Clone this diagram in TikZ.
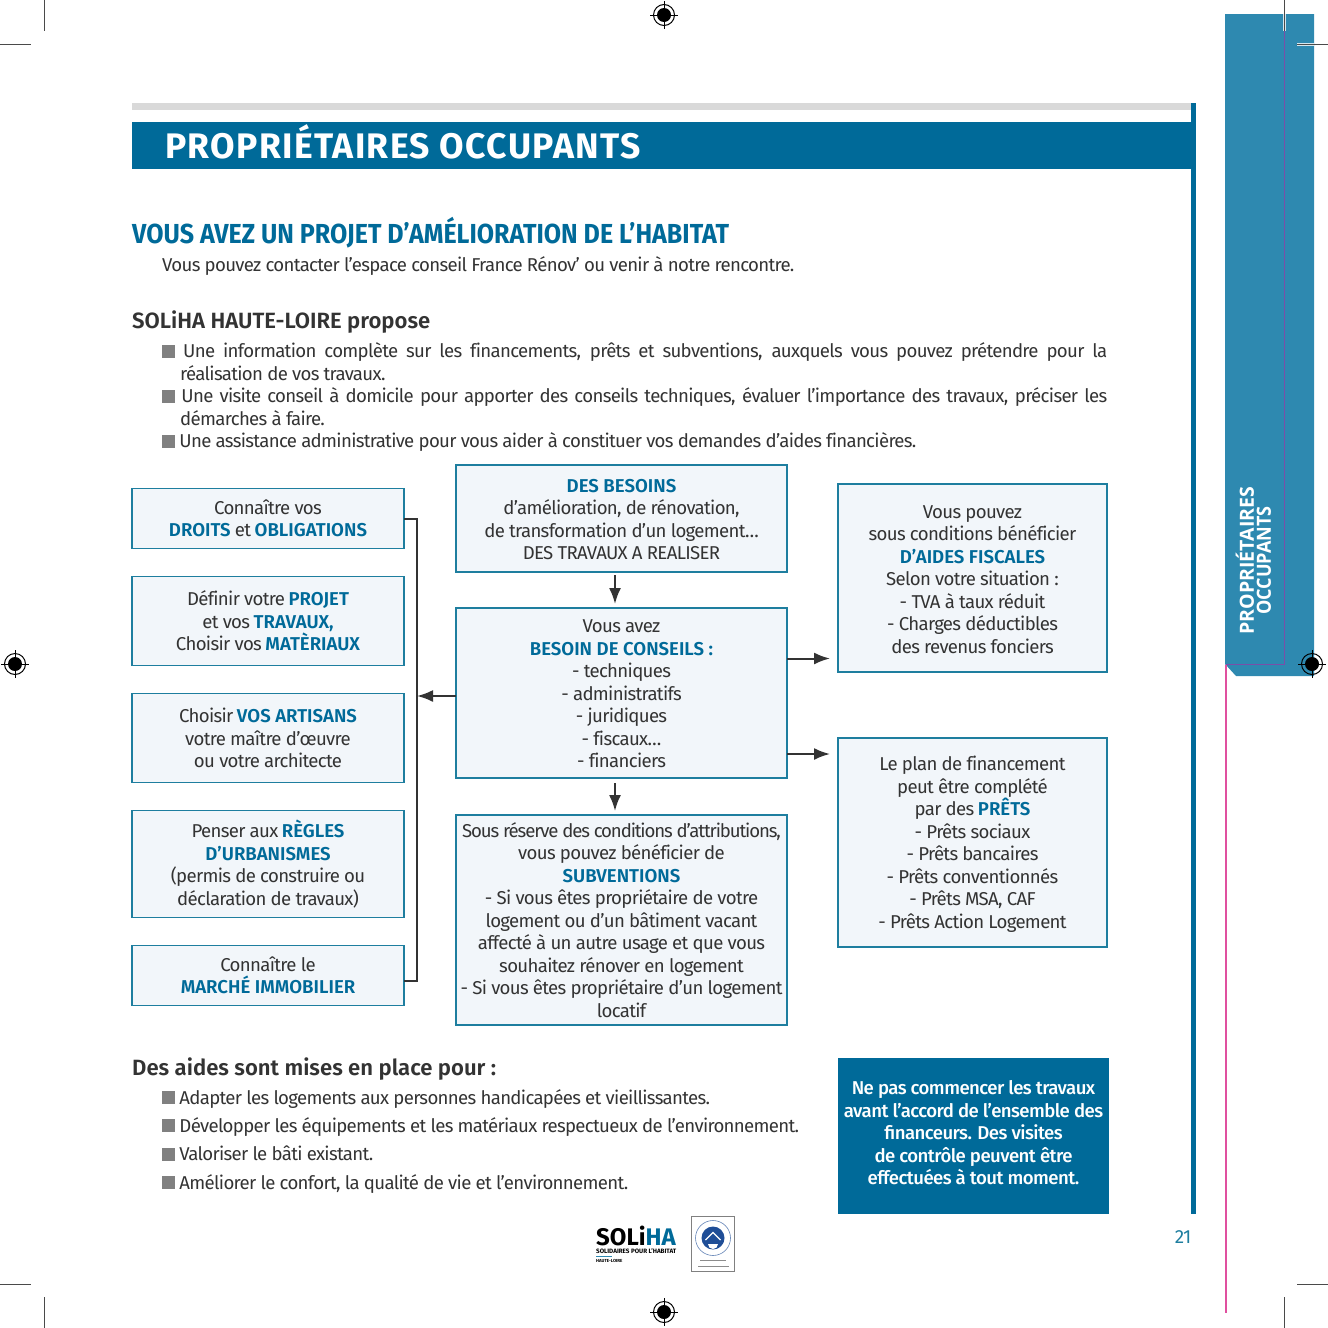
\documentclass[tikz,border=0pt]{standalone}
\usepackage{fontspec}
\setmainfont{Fira Sans}[BoldFont=Fira Sans SemiBold,LetterSpace=-3.6,Ligatures=CommonOff,BoldFeatures={LetterSpace=0}]
\newfontfamily\titlefont{Fira Sans Bold}
\newfontfamily\bandfont{Fira Sans Bold}[LetterSpace=3.8]
\newfontfamily\alertfont{Fira Sans Medium}[LetterSpace=-3]
\newfontfamily\tabfont{Open Sans Bold}
\usepackage{tikz}
\usetikzlibrary{arrows.meta,positioning,calc}
\definecolor{bleu}{HTML}{006A99}
\definecolor{onglet}{HTML}{2E89B0}
\definecolor{cadre}{HTML}{1E7E9F}
\definecolor{fond}{HTML}{F2F6FA}
\definecolor{encre}{HTML}{333333}
\definecolor{puce}{HTML}{808080}
\definecolor{repere}{HTML}{4A4A4A}
\definecolor{violetpage}{HTML}{7A4FA8}
\definecolor{rosepage}{HTML}{E0509F}
\definecolor{sceau}{HTML}{1F4E97}
\newcommand{\kw}[1]{\textbf{\textcolor{bleu}{#1}}}
\newcommand{\pucemark}{\textcolor{puce}{\rule[0pt]{13pt}{13pt}}}
\begin{document}
\begin{tikzpicture}[
    x=1pt, y=-1pt,
    node distance=28pt,
    box/.style={rectangle, draw=cadre, line width=1.7pt, fill=fond, outer sep=0pt, inner sep=0pt, align=center, text=encre, font=\fontsize{18.6}{22.5}\selectfont},
    boxl/.style={box, minimum width=272pt},
    boxm/.style={box, minimum width=331pt},
    boxr/.style={box, minimum width=269pt},
    alert/.style={rectangle, fill=bleu, outer sep=0pt, inner sep=0pt, minimum width=271pt, minimum height=156pt, align=center, text=white, font=\fontsize{18.6}{22.5}\alertfont},
    body/.style={anchor=west, inner sep=0pt, text=encre, font=\fontsize{18.6}{22.5}\selectfont},
    head/.style={anchor=west, inner sep=0pt, text=encre, font=\fontsize{22.1}{26}\bfseries\selectfont},
    arr/.style={-{Latex[length=16pt,width=12pt]}, line width=2pt, draw=encre},
    trim/.style={line width=1.5pt, draw=repere},
    regmark/.pic={
        \draw[line width=1pt, draw=black] (0,0) circle (10.5);
        \fill[black] (0,0) circle (7);
        \draw[line width=1pt, draw=black] (-14,0) -- (14,0) (0,-14) -- (0,14);
    }
]
\useasboundingbox (0,0) rectangle (1328,1328);

% page furniture
\fill[black!15] (132,103) rectangle (1192,110);
\fill[bleu] (132,122) rectangle (1196,169);
\fill[bleu] (1191,103) rectangle (1196,1214);
\fill[onglet] (1225,14) -- (1314,14) -- (1314,676) -- (1236,676) -- (1225,664) -- cycle;
\draw[line width=1.6pt, draw=violetpage] (1284.5,31) -- (1284.5,664.5) -- (1225.5,664.5);
\draw[line width=2pt, draw=rosepage] (1225.5,664.5) -- (1225.5,1313);

\node[anchor=west, inner sep=0pt, text=white, font=\fontsize{35.5}{40}\bandfont] (titre) at (165,142) {PROPRIÉTAIRES OCCUPANTS};
\node[anchor=west, inner sep=0pt, text=bleu, font=\fontsize{27.5}{32}\titlefont] (projet) at (132,233) {\scalebox{0.91}[1]{VOUS AVEZ UN PROJET D’AMÉLIORATION DE L’HABITAT}};
\node[body] (contact) at (162,266) {Vous pouvez contacter l’espace conseil France Rénov’ ou venir à notre rencontre.};
\node[head] (soliha) at (132,322.5) {SOLiHA HAUTE-LOIRE propose};
\node[body, anchor=north west, text width=945pt, align=justify] (offre) at (162,342.5) {
\hangindent=18pt\hangafter=1\pucemark{} Une information complète sur les financements, prêts et subventions, auxquels vous pouvez prétendre pour la\linebreak réalisation de vos travaux.\par
\hangindent=18pt\hangafter=1\pucemark{} Une visite conseil à domicile pour apporter des conseils techniques, évaluer l’importance des travaux, préciser les\linebreak démarches à faire.\par
\hangindent=18pt\hangafter=1\pucemark{} Une assistance administrative pour vous aider à constituer vos demandes d’aides financières.\par};

% left column
\node[boxl, minimum height=60pt] (droits) at (268,518.5) {Connaître vos\\\kw{DROITS} et \kw{OBLIGATIONS}};
\node[boxl, minimum height=89pt, below=of droits] (materiaux) {Définir votre \kw{PROJET}\\et vos \kw{TRAVAUX,}\\Choisir vos \kw{MATÈRIAUX}};
\node[boxl, minimum height=89pt, below=of materiaux] (artisans) {Choisir \kw{VOS ARTISANS}\\votre maître d’œuvre\\ou votre architecte};
\node[boxl, minimum height=107pt, below=of artisans] (regles) {Penser aux \kw{RÈGLES}\\\kw{D’URBANISMES}\\(permis de construire ou\\déclaration de travaux)};
\node[boxl, minimum height=60pt, below=of regles] (marche) {Connaître le\\\kw{MARCHÉ IMMOBILIER}};

% middle column
\node[boxm, minimum height=107pt] (besoins) at (621.5,518.5) {\kw{DES BESOINS}\\d’amélioration, de rénovation,\\de transformation d’un logement…\\DES TRAVAUX A REALISER\par\vspace{-2pt}};
\node[boxm, minimum height=170pt, below=36pt of besoins] (conseils) {Vous avez\\\kw{BESOIN DE CONSEILS :}\\- techniques\\- administratifs\\- juridiques\\- fiscaux…\\- financiers\par\vspace{-2pt}};
\node[boxm, minimum height=210pt, below=37pt of conseils] (subventions) {{\addfontfeature{LetterSpace=-6}Sous réserve des conditions d’attributions,}\\vous pouvez bénéficier de\\\kw{SUBVENTIONS}\\- Si vous êtes propriétaire de votre\\logement ou d’un bâtiment vacant\\affecté à un autre usage et que vous\\souhaitez rénover en logement\\- Si vous êtes propriétaire d’un logement\\locatif};

% right column
\node[boxr, minimum height=188pt] (fiscales) at (972.5,578) {Vous pouvez\\sous conditions bénéficier\\\kw{D’AIDES FISCALES}\\Selon votre situation :\\- TVA à taux réduit\\- Charges déductibles\\des revenus fonciers\par\vspace{-3pt}};
\node[boxr, minimum height=209pt] (prets) at (972.5,842.5) {Le plan de financement\\peut être complété\\par des \kw{PRÊTS}\\- Prêts sociaux\\- Prêts bancaires\\- Prêts conventionnés\\- Prêts MSA, CAF\\- Prêts Action Logement\par\vspace{-3pt}};
\node[alert] (avis) at (973.5,1136) {Ne pas commencer les travaux\\avant l’accord de l’ensemble des\\financeurs. Des visites\\de contrôle peuvent être\\effectuées à tout moment.\par\vspace{6pt}};

\coordinate (spine) at (417,696);
\coordinate (fiscalesin) at (830,658.5);
\coordinate (pretsin) at (830,754);
\draw[line width=2pt, draw=encre] (droits.east) -| (spine) |- ([yshift=-5.5pt]marche.east);
\draw[arr] (conseils.west |- spine) -- (spine);
\draw[arr] ([xshift=-6.5pt,yshift=-3pt]besoins.south) -- ([xshift=-6.5pt,yshift=4pt]conseils.north);
\draw[arr] ([xshift=-6.5pt,yshift=-5pt]conseils.south) -- ([xshift=-6.5pt,yshift=4pt]subventions.north);
\draw[arr] (conseils.east |- fiscalesin) -- (fiscalesin);
\draw[arr] (conseils.east |- pretsin) -- (pretsin);

% lower part
\node[head] (aides) at (132,1069.5) {Des aides sont mises en place pour :};
\node[body, anchor=north west, align=left, font=\fontsize{18.6}{28.3}\selectfont] (aideslist) at (162,1089) {\pucemark{} Adapter les logements aux personnes handicapées et vieillissantes.\\\pucemark{} Développer les équipements et les matériaux respectueux de l’environnement.\\\pucemark{} Valoriser le bâti existant.\\\pucemark{} Améliorer le confort, la qualité de vie et l’environnement.};
\node[anchor=center, inner sep=0pt, text=cadre, font=\fontsize{19}{22}\selectfont] (folio) at (1183,1237) {21};
\node[rotate=90, align=center, inner sep=0pt, text=white, font=\fontsize{19.5}{17}\tabfont] (tabtext) at (1253.5,560.5) {PROPRIÉTAIRES\\\scalebox{0.925}[1]{OCCUPANTS}};

% logos
\node[anchor=west, inner sep=0pt, font=\fontsize{24}{25}\titlefont] (logo) at (596,1235.5) {SOLi\textcolor{bleu}{HA}};
\node[anchor=west, inner sep=0pt, font=\fontsize{6.3}{7}\titlefont] (logosub) at (596,1251.5) {SOLIDAIRES POUR L’HABITAT};
\node[anchor=west, inner sep=0pt, font=\fontsize{4.4}{5}\titlefont] (logodep) at (596,1260.5) {HAUTE-LOIRE};
\fill[onglet] (596,1256) rectangle (612,1257);
\draw[line width=0.8pt, draw=black!50] (691.5,1216.5) rectangle (734.5,1271.5);
\draw[line width=0.6pt, draw=sceau!70] (713,1238) circle (17.5);
\fill[sceau] (713,1238) circle (11.5);
\draw[line width=1.2pt, draw=white] (705.5,1240) -- (713,1232.5) -- (720.5,1240);
\fill[white] (708,1244) arc[start angle=180, end angle=0, radius=5] -- cycle;
\draw[line width=0.7pt, draw=black!45] (700,1260.5) -- (726,1260.5);
\draw[line width=0.7pt, draw=black!45] (698,1266) -- (729,1266);

% trim and registration marks
\draw[trim] (44.5,0) -- (44.5,31) (0,44.5) -- (31,44.5);
\draw[line width=3pt, draw=white!80!onglet] (1284.5,14) -- (1284.5,31) (1297,44.5) -- (1314,44.5);
\draw[trim] (1284.5,0) -- (1284.5,31) (1297,44.5) -- (1328,44.5);
\draw[trim] (44.5,1297) -- (44.5,1328) (0,1284.5) -- (31,1284.5);
\draw[trim] (1284.5,1297) -- (1284.5,1328) (1297,1284.5) -- (1328,1284.5);
\pic at (664,15) {regmark};
\pic at (15,664) {regmark};
\pic at (1312,664) {regmark};
\pic at (664,1312) {regmark};
\end{tikzpicture}
\end{document}
